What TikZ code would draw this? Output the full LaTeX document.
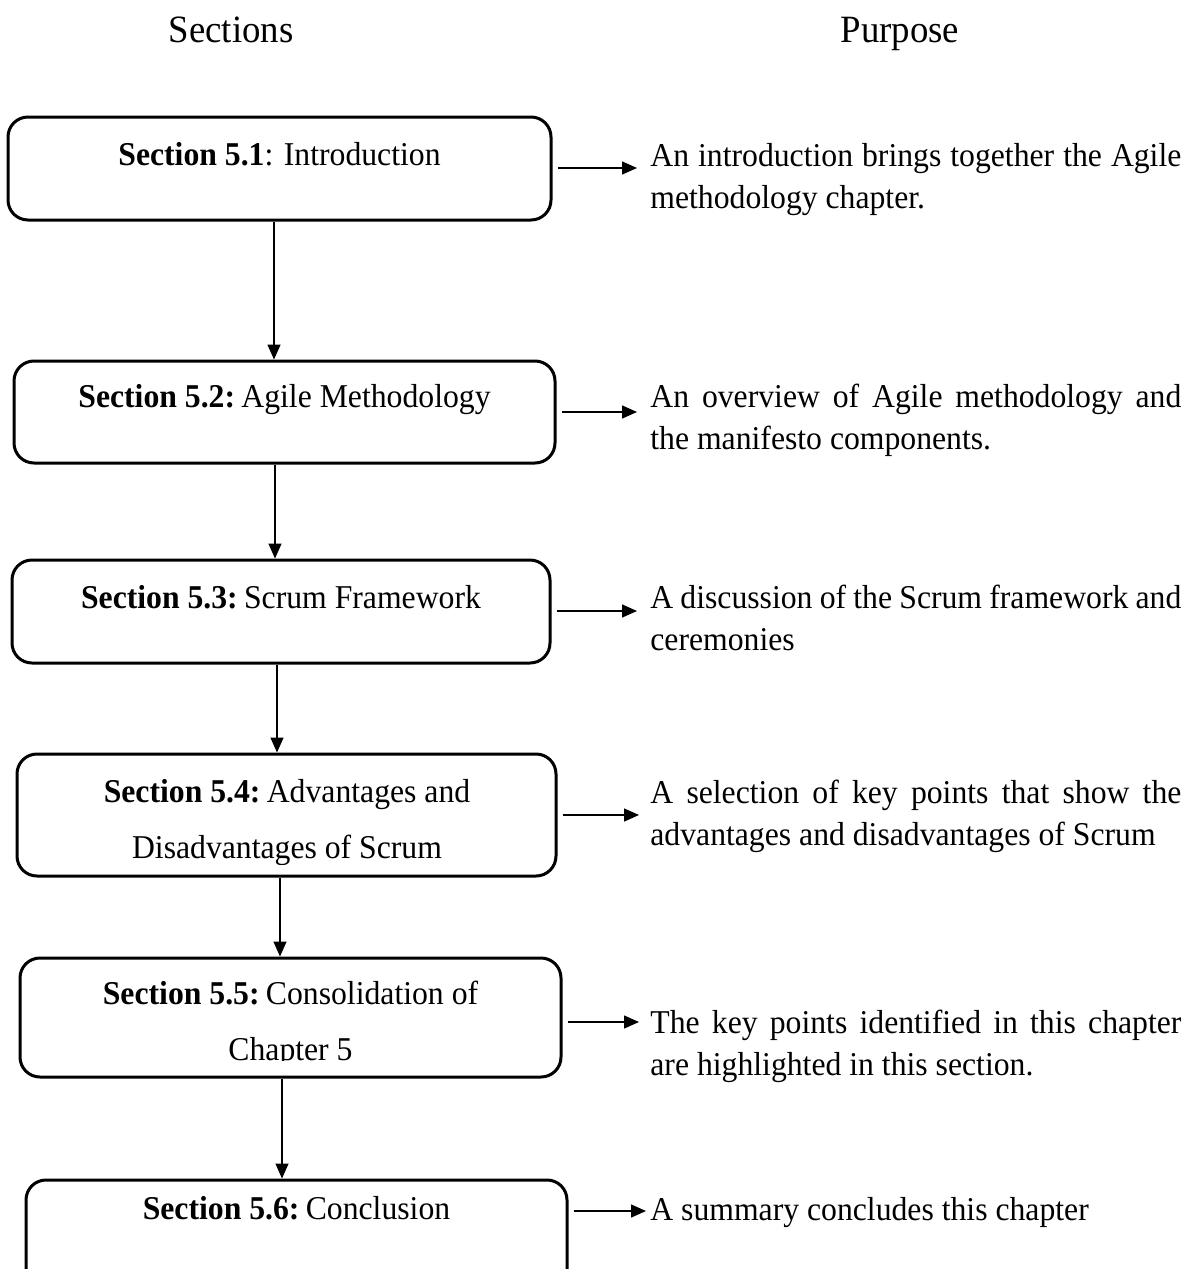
\documentclass[tikz,border=0pt]{standalone}
\usepackage{fontspec}
\setmainfont{Liberation Serif}
\usetikzlibrary{arrows.meta}
\newcommand{\tall}[1]{\scalebox{1}[1.05]{#1}}
\newcommand{\fullline}[1]{\tall{\makebox[265.5pt][s]{#1}}}
\begin{document}
\begin{tikzpicture}[x=0.5pt,y=-0.5pt,
  secbox/.style={draw, line width=1.5pt, rounded corners=10pt, inner sep=0pt},
  body/.style={inner sep=0pt, font=\fontsize{15.85}{19}\selectfont},
  head/.style={inner sep=0pt, font=\fontsize{18.4}{22}\selectfont},
  flow/.style={line width=0.75pt, -{Triangle[length=7.5pt,width=6.5pt]}},
  gap/.style={shorten <=2.5pt},
]
\clip (0,0) rectangle (1191,1269);

% column headings
\node[head, anchor=base] (hs) at (231,42) {\tall{Sections}};
\node[head, anchor=base] (hp) at (900,42) {\tall{Purpose}};

% section boxes
\node[secbox, minimum width=271.5pt, minimum height=51.5pt] (b1) at (279.5,168.5) {};
\node[secbox, minimum width=270.5pt, minimum height=51pt]   (b2) at (284.5,412) {};
\node[secbox, minimum width=269pt,   minimum height=51.5pt] (b3) at (281,611.5) {};
\node[secbox, minimum width=269.5pt, minimum height=61pt]   (b4) at (286.5,815) {};
\node[secbox, minimum width=270.5pt, minimum height=59.5pt] (b5) at (290.5,1017.5) {};
\node[secbox, minimum width=270.5pt, minimum height=58pt]   (b6) at (296.5,1238) {};

% box titles
\node[body, anchor=base] (s1) at (279.5,165) {\tall{\textbf{Section 5.1}: Introduction}};
\node[body, anchor=base] (s2) at (284.5,407) {\tall{\textbf{Section 5.2:}\hspace{0.2em}Agile Methodology}};
\node[body, anchor=base] (s3) at (281,608) {\tall{\textbf{Section 5.3:}\hspace{0.2em}Scrum Framework}};
\node[body, anchor=base] (s4a) at (287,802) {\tall{\textbf{Section 5.4:}\hspace{0.2em}Advantages and}};
\begin{scope}
  \clip (17,754) rectangle (556,864);
  \node[body, anchor=base] (s4b) at (287,858) {\tall{Disadvantages of Scrum}};
\end{scope}
\node[body, anchor=base] (s5a) at (290.5,1004) {\tall{\textbf{Section 5.5:}\hspace{0.2em}Consolidation of}};
\begin{scope}
  \clip (20,958) rectangle (561,1060);
  \node[body, anchor=base] (s5b) at (290.5,1060) {\tall{Chapter 5}};
\end{scope}
\node[body, anchor=base] (s6) at (296.5,1219) {\tall{\textbf{Section 5.6:}\hspace{0.2em}Conclusion}};

% purpose texts
\node[body, anchor=base west] (p1a) at (650,166) {\fullline{An introduction brings together the Agile}};
\node[body, anchor=base west] (p1b) at (650,208) {\tall{methodology chapter.}};
\node[body, anchor=base west] (p2a) at (650,407) {\fullline{An overview of Agile methodology and}};
\node[body, anchor=base west] (p2b) at (650,449) {\tall{the manifesto components.}};
\node[body, anchor=base west] (p3a) at (650,608) {\fullline{A discussion of the Scrum framework and}};
\node[body, anchor=base west] (p3b) at (650,650) {\tall{ceremonies}};
\node[body, anchor=base west] (p4a) at (650,803) {\fullline{A selection of key points that show the}};
\node[body, anchor=base west] (p4b) at (650,845) {\tall{advantages and disadvantages of Scrum}};
\node[body, anchor=base west] (p5a) at (650,1033) {\fullline{The key points identified in this chapter}};
\node[body, anchor=base west] (p5b) at (650,1075) {\tall{are highlighted in this section.}};
\node[body, anchor=base west] (p6) at (650,1220) {\tall{A summary concludes this chapter}};

% arrow tips toward the purpose column
\coordinate (t1) at (637,168);
\coordinate (t2) at (637,412);
\coordinate (t3) at (637,611);
\coordinate (t4) at (639,815);
\coordinate (t5) at (639,1022);
\coordinate (t6) at (646,1211);

\draw[flow, gap] (b1.east |- t1) -- (t1);
\draw[flow, gap] (b2.east |- t2) -- (t2);
\draw[flow, gap] (b3.east |- t3) -- (t3);
\draw[flow, gap] (b4.east |- t4) -- (t4);
\draw[flow, gap] (b5.east |- t5) -- (t5);
\draw[flow, gap] (b6.east |- t6) -- (t6);

% downward links between sections
\coordinate (v1) at (274,0);
\coordinate (v2) at (275,0);
\coordinate (v3) at (277,0);
\coordinate (v4) at (280,0);
\coordinate (v5) at (282,0);
\draw[flow] (b1.south -| v1) -- (b2.north -| v1);
\draw[flow] (b2.south -| v2) -- (b3.north -| v2);
\draw[flow] (b3.south -| v3) -- (b4.north -| v3);
\draw[flow] (b4.south -| v4) -- (b5.north -| v4);
\draw[flow] (b5.south -| v5) -- (b6.north -| v5);
\end{tikzpicture}
\end{document}
